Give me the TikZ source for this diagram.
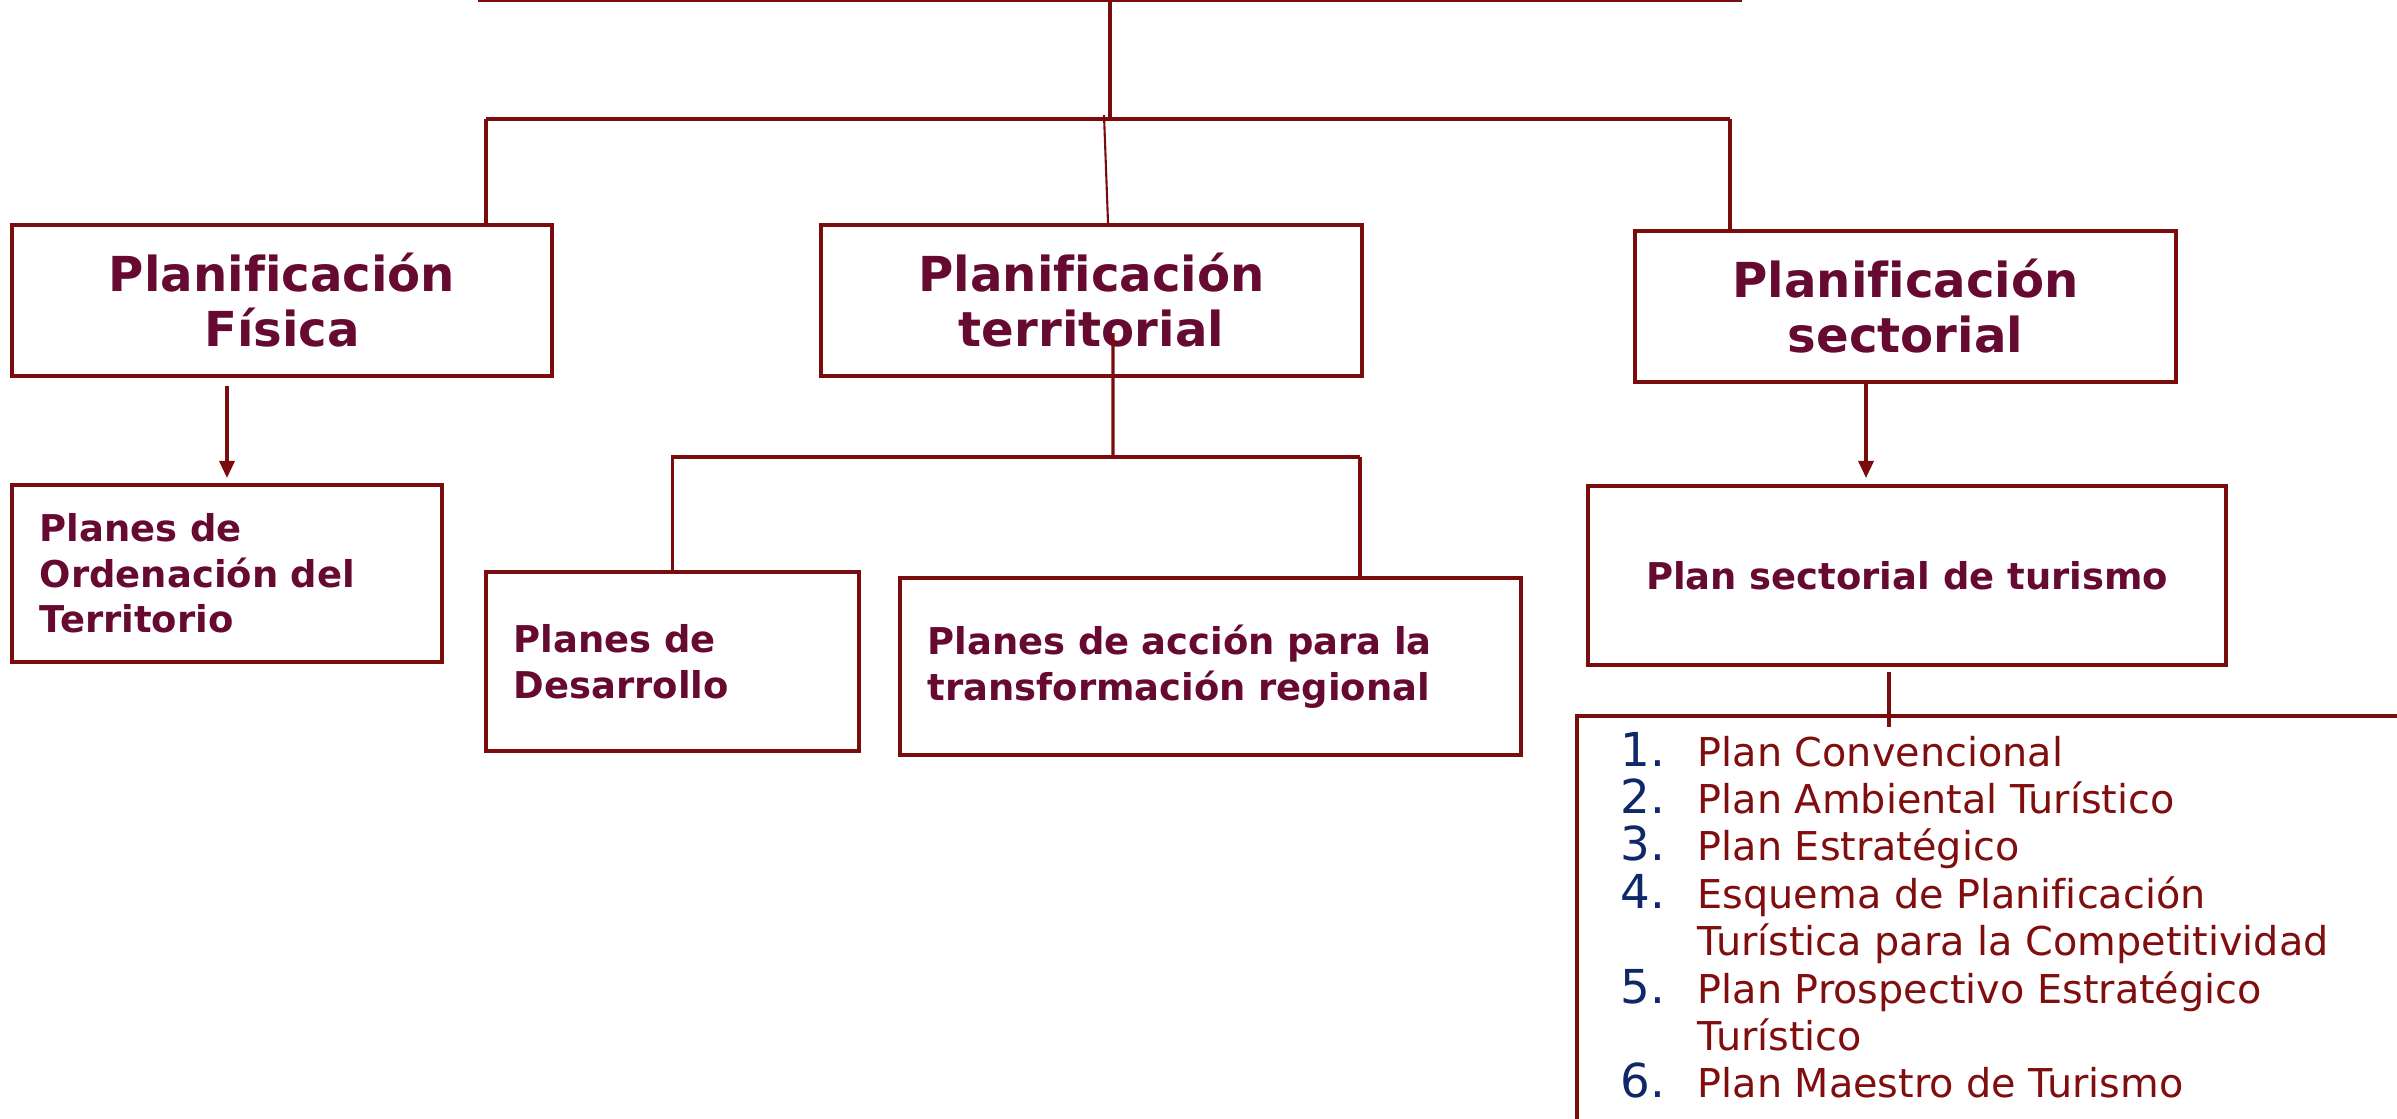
\documentclass[tikz,border=0pt]{standalone}
\usepackage{fontspec}
\setmainfont{DejaVu Sans}[Ligatures=CommonOff]
\usepackage{tikz}
\usetikzlibrary{arrows.meta}
\definecolor{borde}{RGB}{122,12,14}
\definecolor{titulo}{RGB}{102,10,50}
\definecolor{lista}{RGB}{128,14,14}
\definecolor{numero}{RGB}{14,40,104}

\begin{document}
\begin{tikzpicture}[x=0.01cm, y=0.01cm]
\tikzstyle{every node}+=[inner sep=0pt]
\tikzstyle{caja}=[draw=borde, line width=1.1pt, rectangle]
\tikzstyle{grande}=[caja, text=titulo, font=\bfseries\fontsize{13.7}{15.6}\selectfont, align=center, minimum width=5.4cm, minimum height=1.51cm]
\tikzstyle{chica}=[caja, text=titulo, font=\bfseries\fontsize{10.5}{13}\selectfont, align=left, inner xsep=0.28cm]
\tikzstyle{linea}=[borde, line width=0.9pt]
\tikzstyle{flecha}=[linea, -{Triangle[length=0.17cm,width=0.15cm]}]
\tikzstyle{num}=[text=numero, font=\fontsize{13.3}{15}\selectfont, anchor=base east]
\tikzstyle{item}=[text=lista, font=\fontsize{11.3}{13.5}\selectfont, anchor=base west]
\useasboundingbox (0,0) rectangle (2397,-1119);
\clip (0,0) rectangle (2397,-1119);
\node [caja, minimum width=12.6cm, minimum height=1cm, anchor=south] (top) at (1110,-2) {};
\node [grande] (fis) at (282,-300.5) {Planificación\\Física};
\node [grande] (ter) at (1091.5,-300.5) {Planificación\\territorial};
\node [grande] (sec) at (1905.5,-306.5) {Planificación\\sectorial};
\node [chica, text width=3.74cm, minimum height=1.77cm] (ord) at (227,-573.5) {Planes de\\Ordenación del\\Territorio};
\node [chica, text width=3.17cm, minimum height=1.79cm] (des) at (672.5,-661.5) {Planes de\\Desarrollo};
\node [chica, text width=5.65cm, minimum height=1.77cm] (acc) at (1210.5,-666.5) {Planes de acción para la\\transformación regional};
\node [caja, text=titulo, font=\bfseries\fontsize{10.5}{13}\selectfont, minimum width=6.38cm, minimum height=1.79cm] (tur) at (1907,-575.5) {Plan sectorial de turismo};
\node [caja, anchor=north west, minimum width=9cm, minimum height=5cm] (lst) at (1575,-714) {};
\node [num] (n1) at (1666,-766) {1.};
\node [item] (p1) at (1697,-766) {Plan Convencional};
\node [num] (n2) at (1666,-813.4) {2.};
\node [item] (p2) at (1697,-813.4) {Plan Ambiental Turístico};
\node [num] (n3) at (1666,-860.8) {3.};
\node [item] (p3) at (1697,-860.8) {Plan Estratégico};
\node [num] (n4) at (1666,-908.2) {4.};
\node [item] (p4) at (1697,-908.2) {Esquema de Planificación};
\node [item] (p4b) at (1697,-955.6) {Turística para la Competitividad};
\node [num] (n5) at (1666,-1003) {5.};
\node [item] (p5) at (1697,-1003) {Plan Prospectivo Estratégico};
\node [item] (p5b) at (1697,-1050.4) {Turístico};
\node [num] (n6) at (1666,-1097.8) {6.};
\node [item] (p6) at (1697,-1097.8) {Plan Maestro de Turismo};
\coordinate (bus) at (1110,-119);
\coordinate (busL) at (486,-119);
\coordinate (busM) at (1104,-115);
\coordinate (busR) at (1730,-119);
\draw [borde, line width=1.4pt] (top.south) -- (bus);
\draw [linea] (busL) -- (busR);
\draw [linea] (busL) -- (busL |- fis.north);
\draw [borde, line width=0.6pt] (busM) -- ([xshift=0.165cm]ter.north);
\draw [linea] (busR) -- (busR |- sec.north);
\draw [flecha] ([yshift=-0.08cm]fis.south -| ord.north) -- ([yshift=0.05cm]ord.north);
\coordinate (flS) at (1866,-384);
\draw [flecha] (flS) -- ([yshift=0.06cm]flS |- tur.north);
\coordinate (hubT) at (1113,-457);
\coordinate (accT) at (1360,-457);
\draw [linea] ([xshift=0.215cm,yshift=-0.325cm]ter.center) -- (hubT);
\draw [linea] ([yshift=-0.04cm]des.north) |- (accT);
\draw [linea] (accT) -- ([yshift=-0.04cm]accT |- acc.north);
\coordinate (finT) at (1889,-727);
\draw [linea] ([yshift=-0.05cm]finT |- tur.south) -- (finT);
\end{tikzpicture}
\end{document}
